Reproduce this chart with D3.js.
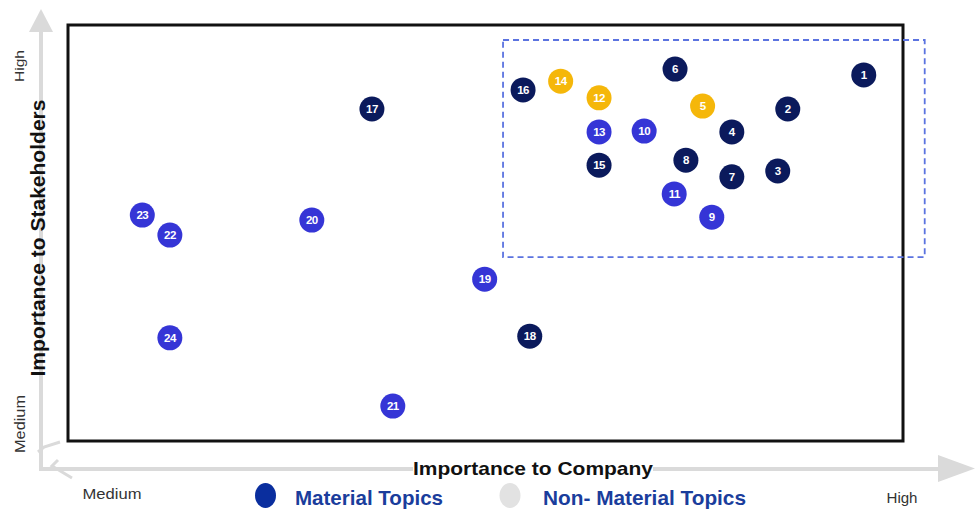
<!DOCTYPE html>
<html><head><meta charset="utf-8">
<script src="https://cdn.jsdelivr.net/npm/d3@7"></script>
<style>
html,body{margin:0;padding:0;background:#fff;}
svg{display:block;font-family:"Liberation Sans",Arial,sans-serif;}
</style></head>
<body><svg id="chart" width="976" height="509"></svg>
<script>
// Topic ids
const topics = [1,2,3,4,5,6,7,8,9,10,11,12,13,14,15,16,17,18,19,20,21,22,23,24];
// Importance to Company (0-100)
const companyScore = [95.3,86.2,85.0,79.5,76.0,72.7,79.5,74.0,77.1,69.0,72.6,63.6,63.6,59.0,63.6,54.5,36.4,55.3,49.9,29.2,38.9,12.2,8.9,12.2];
// Importance to Stakeholders (0-100)
const stakeholderScore = [88.0,79.8,64.9,74.3,80.5,89.4,63.5,67.5,53.8,74.5,59.4,82.5,74.3,86.5,66.3,84.4,79.8,25.2,38.9,53.1,8.4,49.5,54.3,24.8];
// Group of each topic
const group = ["navy","navy","navy","navy","gold","navy","navy","navy","blue","blue","blue","gold","blue","gold","navy","navy","navy","navy","blue","blue","blue","blue","blue","blue"];
// Material zone (dashed box) in data units
const zoneX = [52.1,102.6];
const zoneY = [44.2,96.4];
const axisLabels = ["Medium","High"];
const legendLabels = ["Material Topics","Non- Material Topics"];

const colors = {navy:"#0b1a5c", blue:"#3535d6", gold:"#f5b70a"};

const svg = d3.select("#chart");
const x = d3.scaleLinear().domain([0,100]).range([68,903]);
const y = d3.scaleLinear().domain([0,100]).range([441,25]);

// gray arrows
const gray = "#dadada";
svg.append("line").attr("x1",41).attr("y1",469).attr("x2",41).attr("y2",30)
  .attr("stroke",gray).attr("stroke-width",4);
svg.append("path").attr("d","M29,32 L41,9 L53,32 Z").attr("fill",gray);
svg.append("line").attr("x1",39).attr("y1",469).attr("x2",940).attr("y2",469)
  .attr("stroke",gray).attr("stroke-width",4);
svg.append("path").attr("d","M938,455 L975,468.5 L938,482 Z").attr("fill",gray);
// small gray marks near origin
svg.append("path").attr("d","M60,442 L44,447 L38,452").attr("fill","none").attr("stroke",gray).attr("stroke-width",3);
svg.append("path").attr("d","M58,460 L52,466 L72,478").attr("fill","none").attr("stroke",gray).attr("stroke-width",3);

// plot frame
svg.append("rect").attr("x",x(0)).attr("y",y(100)).attr("width",x(100)-x(0)).attr("height",y(0)-y(100))
  .attr("fill","none").attr("stroke","#111").attr("stroke-width",3);

// dashed material zone
svg.append("rect").attr("x",x(zoneX[0])).attr("y",y(zoneY[1]))
  .attr("width",x(zoneX[1])-x(zoneX[0])).attr("height",y(zoneY[0])-y(zoneY[1]))
  .attr("fill","none").attr("stroke","#5b73e0").attr("stroke-width",1.8).attr("stroke-dasharray","6,4");

// points
const data = topics.map((t,i)=>({id:t,cx:companyScore[i],cy:stakeholderScore[i],g:group[i]}));
const g = svg.append("g").selectAll("g").data(data).join("g")
  .attr("transform",d=>`translate(${x(d.cx)},${y(d.cy)})`);
g.append("circle").attr("r",12.5).attr("fill",d=>colors[d.g]);
g.append("text").attr("text-anchor","middle").attr("dy","0.36em")
  .attr("fill","#fff").attr("font-weight","bold").attr("font-size",11.5)
  .attr("letter-spacing",-0.5)
  .text(d=>d.id);

// axis titles
svg.append("text").attr("transform","translate(45,238) rotate(-90)").attr("text-anchor","middle")
  .attr("font-weight","bold").attr("font-size",19.5).attr("fill","#111")
  .attr("textLength",277).attr("lengthAdjust","spacingAndGlyphs").text("Importance to Stakeholders");
svg.append("rect").attr("x",413).attr("y",457).attr("width",240).attr("height",24).attr("fill","#fff");
svg.append("text").attr("x",533).attr("y",475).attr("text-anchor","middle")
  .attr("font-weight","bold").attr("font-size",18.5).attr("fill","#111")
  .attr("textLength",240).attr("lengthAdjust","spacingAndGlyphs").text("Importance to Company");

// axis end labels
svg.append("text").attr("transform","translate(24,66) rotate(-90)").attr("text-anchor","middle")
  .attr("font-size",13).attr("fill","#333")
  .attr("textLength",32).attr("lengthAdjust","spacingAndGlyphs").text(axisLabels[1]);
svg.append("text").attr("transform","translate(25,424) rotate(-90)").attr("text-anchor","middle")
  .attr("font-size",14).attr("fill","#333")
  .attr("textLength",58).attr("lengthAdjust","spacingAndGlyphs").text(axisLabels[0]);
svg.append("text").attr("x",112).attr("y",499).attr("text-anchor","middle")
  .attr("font-size",15).attr("fill","#333")
  .attr("textLength",59).attr("lengthAdjust","spacingAndGlyphs").text(axisLabels[0]);
svg.append("text").attr("x",902).attr("y",503).attr("text-anchor","middle")
  .attr("font-size",15).attr("fill","#333")
  .attr("textLength",31).attr("lengthAdjust","spacingAndGlyphs").text(axisLabels[1]);

// legend
svg.append("ellipse").attr("cx",265.5).attr("cy",495.5).attr("rx",10.5).attr("ry",12.5).attr("fill","#0a2e9e");
svg.append("text").attr("x",295).attr("y",505).attr("font-weight","bold").attr("font-size",20.5)
  .attr("fill","#1a3d9c").attr("textLength",148).attr("lengthAdjust","spacingAndGlyphs").text(legendLabels[0]);
svg.append("ellipse").attr("cx",510).attr("cy",495.5).attr("rx",10.5).attr("ry",12.5).attr("fill","#e2e2e2");
svg.append("text").attr("x",543).attr("y",505).attr("font-weight","bold").attr("font-size",20.5)
  .attr("fill","#1a3d9c").attr("textLength",203).attr("lengthAdjust","spacingAndGlyphs").text(legendLabels[1]);
</script></body></html>
